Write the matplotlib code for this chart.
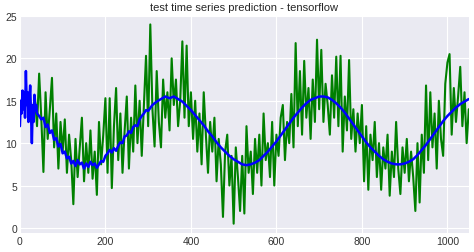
import numpy as np
import matplotlib
matplotlib.use("Agg")
import matplotlib.pyplot as plt

# observed test series (green), one value every 5 steps from t=35
green_start = 35
green_step = 5
green_vals = [
    15.5, 12.0, 18.2, 13.0, 6.6, 16.0, 10.5, 14.0, 17.7, 9.5, 13.5, 7.0, 12.5, 9.0,
    12.8, 6.5, 11.0, 8.0, 2.8, 10.5, 6.0, 9.5, 13.0, 5.5,
    10.0, 6.5, 11.5, 5.8, 9.0, 3.9, 12.5, 7.5, 11.0, 15.3,
    6.5, 15.3, 4.7, 12.0, 16.5, 8.0, 13.5, 6.5, 11.5, 15.5,
    7.0, 13.0, 9.0, 16.8, 10.0, 15.0, 8.5, 14.5, 20.3, 12.0,
    24.0, 14.0, 9.6, 18.5, 12.5, 9.5, 17.5, 13.0, 16.0, 11.5,
    20.0, 14.5, 17.5, 12.0, 15.0, 22.0, 13.0, 21.5, 12.0, 16.0,
    10.5, 15.0, 9.0, 13.5, 7.5, 16.0, 11.0, 6.5, 12.5, 9.0,
    13.0, 5.5, 10.5, 7.5, 1.3, 9.0, 11.0, 5.0, 8.5, 0.5,
    9.5, 6.0, 2.0, 8.5, 1.7, 12.0, 6.5, 9.0, 4.0, 10.5,
    6.5, 11.0, 5.0, 13.5, 8.0, 10.0, 6.0, 12.5, 5.0, 11.0,
    8.5, 13.0, 14.5, 8.0, 12.5, 10.0, 15.8, 9.5, 21.8, 12.0,
    18.5, 11.0, 19.7, 13.0, 16.5, 10.5, 17.5, 12.5, 22.2, 14.0,
    21.0, 12.5, 17.0, 14.5, 11.0, 18.0, 13.0, 20.2, 12.0, 20.3,
    9.0, 15.5, 11.5, 19.8, 10.5, 14.0, 9.0, 13.5, 10.0, 14.5,
    5.5, 12.0, 4.5, 11.0, 8.0, 12.5, 6.0, 10.0, 4.5, 9.5,
    7.0, 11.0, 3.8, 9.0, 6.0, 12.5, 7.0, 4.0, 9.5, 6.5,
    10.5, 5.5, 9.0, 6.0, 2.0, 10.0, 3.0, 11.0, 6.5, 16.8,
    8.0, 16.0, 9.5, 13.5, 7.0, 15.0, 10.5, 8.5, 17.0, 19.5,
    20.5, 11.0, 16.5, 12.5, 15.5, 19.0, 12.0, 16.0, 10.0, 14.0,
]
green_t = green_start + green_step * np.arange(len(green_vals))

# prediction (blue)
blue_t = [0, 2, 4, 6, 8, 10, 12, 14, 16, 18, 20, 22, 24, 26, 28, 30, 32, 34, 36, 38, 40,
          45, 50, 55, 60, 65, 70, 75, 80, 85, 90, 95, 100, 105, 110, 115, 120, 125, 130,
          135, 140, 145, 150, 155, 160, 165, 170, 175, 180, 185, 190, 195, 200, 205, 210,
          215, 220, 225, 230, 235, 240, 245, 250, 255, 260, 265, 270, 275, 280, 285, 290,
          295, 300, 310, 320, 330, 340, 350, 360, 370, 380, 390, 400, 410, 420, 430, 440,
          450, 460, 470, 480, 490, 500, 510, 520, 530, 540, 550, 560, 570, 580, 590, 600,
          610, 620, 630, 640, 650, 660, 670, 680, 690, 700, 710, 720, 730, 740, 750, 760,
          770, 780, 790, 800, 810, 820, 830, 840, 850, 860, 870, 880, 890, 900, 910, 920,
          930, 940, 950, 960, 970, 980, 990, 1000, 1010, 1020, 1030, 1040, 1050]
blue_vals = [12.0, 15.0, 13.5, 16.2, 14.0, 16.0, 13.0, 18.5, 14.5, 16.0, 12.5, 15.0, 16.8,
             13.5, 10.0, 14.5, 12.5, 15.7, 13.8, 14.5, 13.5,
             13.2, 12.8, 13.0, 11.9, 12.2, 11.2, 11.5, 10.4, 10.6, 9.6, 9.9, 8.8, 9.0, 8.2,
             8.4, 7.6, 7.9, 7.3, 8.0, 7.5, 7.7, 7.0, 7.6, 7.2, 7.8, 7.4, 7.6, 7.1, 7.5, 7.9,
             7.8, 8.5, 8.8, 9.2, 8.9, 9.4, 9.1, 9.7, 10.1, 10.0, 10.8, 10.9, 11.4, 11.2,
             11.9, 12.1, 12.0, 12.8, 13.2, 13.5, 13.9, 13.8, 14.5, 14.9, 15.2, 15.5, 15.3,
             15.5, 15.2, 14.9, 14.4, 13.9, 13.3, 12.7, 12.1, 11.4, 10.8, 10.1, 9.5, 9.0,
             8.5, 8.1, 7.8, 7.5, 7.4, 7.5, 7.7, 8.0, 8.5, 9.0, 9.6, 10.2, 10.9, 11.6,
             12.3, 13.0, 13.6, 14.2, 14.7, 15.1, 15.3, 15.5, 15.5, 15.4, 15.1, 14.7,
             14.2, 13.6, 12.9, 12.2, 11.5, 10.8, 10.1, 9.5, 9.0, 8.5, 8.1, 7.8, 7.6,
             7.5, 7.5, 7.6, 7.8, 8.1, 8.6, 9.2, 9.8, 10.5, 11.2, 11.9, 12.6, 13.2, 13.7,
             14.2, 14.6, 14.9, 15.2]

plt.style.use("seaborn-v0_8-darkgrid")
plt.rcParams["font.family"] = ["Liberation Sans", "DejaVu Sans"]
fig = plt.figure(figsize=(4.74, 2.53), dpi=100)
ax = fig.add_axes([0.042, 0.075, 0.947, 0.858])

ax.plot(green_t, green_vals, color="g", lw=1.5)
ax.plot(blue_t, blue_vals, color="b", lw=1.8)

ax.set_xlim(0, 1050)
ax.set_ylim(-0.6, 25)
ax.set_xticks([0, 200, 400, 600, 800, 1000])
ax.set_yticks([0, 5, 10, 15, 20, 25])
ax.tick_params(labelsize=7.5, colors="#333333", pad=2)
ax.set_title("test time series prediction - tensorflow", fontsize=8, color="#262626", pad=4)

fig.savefig("out.png", dpi=100)
